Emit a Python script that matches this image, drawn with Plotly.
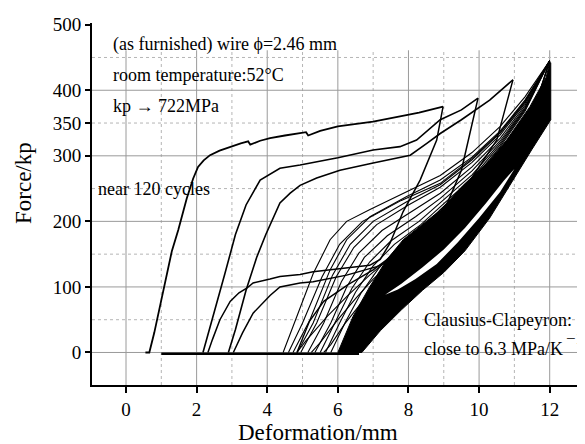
import plotly.graph_objects as go

# ---------------- data ----------------
c1_load_x = [0.55, 0.66, 0.80, 1.07, 1.30, 1.48, 1.72, 1.90, 2.04, 2.20, 2.38, 2.65, 2.95, 3.25, 3.46, 3.52, 3.80, 4.08, 4.50, 4.93, 5.10, 5.16, 5.50, 6.00, 6.60, 7.00, 7.76, 8.30, 8.98]
c1_load_y = [0, 0, 30, 100, 155, 187, 235, 265, 283, 293, 301, 308, 314, 319, 322, 317, 323, 327, 331, 334, 336, 331, 338, 345, 349, 352, 360, 366, 375]
c1_unload_x = [8.98, 8.80, 8.33, 7.85, 7.48, 7.20, 6.90, 6.25, 5.30, 4.93, 4.36, 4.08, 3.60, 3.42, 3.20, 2.95, 2.66, 2.45, 2.32]
c1_unload_y = [375, 324, 263, 215, 167, 142, 133, 129, 123, 119, 116, 112, 106, 98, 91, 78, 50, 20, 0]

c2_load_x = [2.18, 2.50, 2.80, 3.10, 3.40, 3.80, 4.36, 4.93, 5.40, 6.00, 7.00, 7.76, 8.23, 8.90, 9.50, 9.97]
c2_load_y = [0, 60, 120, 180, 225, 263, 281, 286, 291, 297, 309, 314, 324, 355, 370, 388]
c2_unload_x = [9.97, 9.50, 9.10, 8.60, 8.10, 7.60, 7.10, 6.25, 5.30, 4.93, 4.36, 4.08, 3.60, 3.30, 3.04]
c2_unload_y = [388, 278, 228, 188, 160, 142, 131, 118, 108, 106, 100, 87, 60, 30, 0]

c3_load_x = [2.90, 3.10, 3.40, 3.70, 3.96, 4.36, 4.65, 4.93, 5.40, 6.06, 7.00, 8.05, 8.52, 8.90, 9.50, 10.30, 10.96]
c3_load_y = [0, 35, 95, 145, 180, 228, 243, 255, 266, 278, 289, 301, 319, 334, 355, 385, 416]
c3_unload_x = [10.96, 10.50, 9.94, 9.40, 8.80, 8.20, 7.60, 7.00, 6.30, 5.60, 5.20, 4.95, 4.84]
c3_unload_y = [416, 324, 278, 236, 200, 172, 150, 126, 104, 78, 48, 15, 0]

# later loading branches converging on the 12 mm apex
fan_x = [
    [4.45, 4.70, 4.93, 5.30, 5.78, 6.25, 6.91, 7.95, 8.90, 9.80, 10.60, 11.30, 12.00],
    [4.60, 5.00, 5.55, 6.05, 6.70, 7.80, 8.90, 9.80, 10.60, 11.30, 12.00],
    [4.73, 5.21, 5.78, 6.25, 6.91, 7.95, 8.90, 9.80, 10.60, 11.30, 12.00],
    [4.85, 5.30, 5.85, 6.35, 7.00, 7.95, 8.90, 9.80, 10.60, 11.30, 12.00],
    [4.95, 5.40, 5.95, 6.45, 7.10, 8.00, 8.90, 9.80, 10.60, 11.30, 12.00],
    [5.15, 5.60, 6.10, 6.60, 7.25, 8.10, 8.90, 9.80, 10.60, 11.30, 12.00],
    [5.35, 5.80, 6.25, 6.75, 7.40, 8.20, 8.90, 9.80, 10.60, 11.30, 12.00],
    [5.50, 5.95, 6.40, 6.90, 7.50, 8.30, 8.90, 9.80, 10.60, 11.30, 12.00],
    [5.65, 6.05, 6.50, 7.00, 7.60, 8.35, 8.90, 9.80, 10.60, 11.30, 12.00],
    [5.80, 6.20, 6.65, 7.15, 7.70, 8.40, 8.90, 9.80, 10.60, 11.30, 12.00],
]
fan_y = [
    [0, 35, 70, 120, 172, 200, 218, 245, 270, 305, 345, 390, 445],
    [0, 45, 115, 165, 200, 232, 258, 296, 336, 383, 445],
    [0, 50, 126, 172, 207, 238, 263, 298, 338, 385, 445],
    [0, 45, 118, 165, 200, 230, 256, 294, 335, 382, 445],
    [0, 45, 115, 160, 195, 225, 252, 290, 332, 380, 445],
    [0, 45, 108, 152, 186, 215, 243, 283, 327, 377, 445],
    [0, 45, 100, 145, 178, 207, 235, 277, 323, 374, 445],
    [0, 48, 98, 138, 170, 200, 228, 271, 320, 372, 445],
    [0, 45, 92, 132, 165, 195, 222, 266, 317, 370, 445],
    [0, 45, 90, 128, 160, 190, 218, 262, 314, 368, 445],
]

# later unloading branches from the apex
unl_x = [
    [12.00, 11.60, 11.00, 10.30, 9.60, 8.90, 8.20, 7.50, 6.90, 6.30, 5.70, 5.10, 4.84],
    [12.00, 11.60, 11.00, 10.30, 9.60, 8.90, 8.20, 7.60, 7.00, 6.50, 6.00, 5.50, 5.25],
    [12.00, 11.60, 11.00, 10.30, 9.60, 8.90, 8.30, 7.70, 7.20, 6.70, 6.20, 5.80, 5.60],
]
unl_y = [
    [445, 380, 322, 275, 236, 200, 170, 145, 118, 88, 55, 18, 0],
    [445, 378, 318, 270, 230, 195, 165, 140, 112, 82, 50, 15, 0],
    [445, 375, 315, 266, 226, 192, 162, 136, 108, 78, 44, 12, 0],
]

# zero-force slack between cycles
slack_x = [1.00, 6.60]
slack_y = [-2, -2]

# dense band of the stabilised cycles (outline)
band_x = [6.00, 6.20, 6.43, 6.90, 7.38, 7.85, 8.42, 8.90, 9.55, 10.30, 10.78, 11.44, 11.90, 12.00, 12.03, 12.03,
          11.50, 10.96, 10.30, 9.60, 9.00, 8.40, 7.80, 7.20, 6.68, 6.00]
band_y = [0, 25, 55, 100, 141, 172, 197, 217, 255, 293, 324, 375, 420, 442, 442, 355,
          310, 262, 205, 155, 122, 95, 65, 33, 0, 0]
# thin gap between the two branches of the band
gap_x = [7.34, 7.80, 8.40, 9.00, 9.60, 10.20, 10.70, 11.00, 10.60, 10.00, 9.40, 8.80, 8.20, 7.70, 7.34]
gap_y = [88, 105, 130, 157, 190, 228, 262, 280, 245, 205, 168, 135, 112, 96, 88]

x_ticks = [0, 2, 4, 6, 8, 10, 12]
y_ticks = [0, 100, 200, 300, 350, 400, 500]
grid_major_x = [0, 2, 4, 6, 8, 10, 12]
grid_minor_x = [1, 3, 5, 7, 9, 11]
grid_major_y = [0, 100, 200, 300, 400]
grid_minor_y = [50, 150, 250, 350, 450]

# ---------------- layout constants ----------------
OFF = 8                      # page body margin of the browser
PAGE_W, PAGE_H = 585, 444
W, H = PAGE_W - OFF, PAGE_H - OFF
PL, PR, PT, PB = 92, 585, 23, 385   # plot area in page pixels
XR = [-0.963, 13.0]
YR = [-49.6, 502.6]
GRID_TOP = 461
FONT = "Liberation Serif"


def px(xp):
    return (xp - PL) / (PR - PL)


def py(yp):
    return (PB - yp) / (PB - PT)


fig = go.Figure()

fig.add_trace(go.Scatter(x=band_x, y=band_y, fill="toself", fillcolor="black", mode="lines",
                         line=dict(color="black", width=1), hoverinfo="skip", showlegend=False))
fig.add_trace(go.Scatter(x=gap_x, y=gap_y, fill="toself", fillcolor="white", mode="lines",
                         line=dict(color="white", width=0), hoverinfo="skip", showlegend=False))


def add_line(xs, ys, w=1.4):
    fig.add_trace(go.Scatter(x=xs, y=ys, mode="lines", line=dict(color="black", width=w),
                             hoverinfo="skip", showlegend=False))


for xs, ys in zip(fan_x, fan_y):
    add_line(xs, ys, 1.1)
for xs, ys in zip(unl_x, unl_y):
    add_line(xs, ys, 1.1)
add_line(c1_load_x, c1_load_y, 1.8)
add_line(c1_unload_x, c1_unload_y, 1.5)
add_line(c2_load_x, c2_load_y, 1.6)
add_line(c2_unload_x, c2_unload_y, 1.5)
add_line(c3_load_x, c3_load_y, 1.6)
add_line(c3_unload_x, c3_unload_y, 1.4)
add_line(slack_x, slack_y, 2.5)

shapes = []
for g in grid_major_x:
    shapes.append(dict(type="line", xref="x", yref="y", x0=g, x1=g, y0=YR[0], y1=GRID_TOP,
                       line=dict(color="#9a9a9a", width=1), layer="below"))
for g in grid_minor_x:
    shapes.append(dict(type="line", xref="x", yref="y", x0=g, x1=g, y0=YR[0], y1=GRID_TOP,
                       line=dict(color="#b5b5b5", width=1, dash="dot"), layer="below"))
for g in grid_major_y:
    shapes.append(dict(type="line", xref="x", yref="y", x0=XR[0], x1=XR[1], y0=g, y1=g,
                       line=dict(color="#9a9a9a", width=1), layer="below"))
for g in grid_minor_y:
    shapes.append(dict(type="line", xref="x", yref="y", x0=XR[0], x1=XR[1], y0=g, y1=g,
                       line=dict(color="#b5b5b5", width=1, dash="dot"), layer="below"))
# white boxes behind the text blocks
for (a, b, c, d) in [(92, 413, 20, 93), (92, 265, 93, 133), (92, 216, 177, 203), (402, 586, 307, 377)]:
    shapes.append(dict(type="rect", xref="paper", yref="paper", x0=px(a), x1=px(b), y0=py(d), y1=py(c),
                       fillcolor="white", line=dict(width=0), layer="below"))

annos = []


def txt(s, xp, yp, size=18, xanchor="left"):
    annos.append(dict(text=s, xref="paper", yref="paper", x=px(xp), y=py(yp), xanchor=xanchor,
                      yanchor="middle", showarrow=False, borderpad=0,
                      font=dict(family=FONT, size=size, color="black")))


txt("(as furnished) wire \u03d5=2.46 mm", 112, 45)
txt("room temperature:52\u00b0C", 112, 75)
txt("kp \u2192 722MPa", 112, 106)
txt("near 120 cycles", 97, 189)
txt("Clausius-Clapeyron:", 423, 320)
txt("close to 6.3 MPa/K", 423, 349)
txt("\u22121", 585, 338, size=17, xanchor="right")
txt("Deformation/mm", 318, 432, size=23, xanchor="center")
annos.append(dict(text="Force/kp", xref="paper", yref="paper", x=px(23), y=py(183), textangle=-90,
                  xanchor="center", yanchor="middle", showarrow=False,
                  font=dict(family=FONT, size=23, color="black")))

fig.update_layout(
    width=W, height=H, margin=dict(l=PL - OFF, r=PAGE_W - PR, t=PT - OFF, b=PAGE_H - PB),
    paper_bgcolor="white", plot_bgcolor="white",
    shapes=shapes, annotations=annos,
    xaxis=dict(range=XR, tickvals=x_ticks, showgrid=False, zeroline=False, showline=True,
               linecolor="black", linewidth=2, ticks="outside", ticklen=6, tickwidth=2, tickcolor="black",
               tickfont=dict(family=FONT, size=19, color="black")),
    yaxis=dict(range=YR, tickvals=y_ticks, showgrid=False, zeroline=False, showline=True,
               linecolor="black", linewidth=2, ticks="outside", ticklen=5, tickwidth=2, tickcolor="black",
               tickfont=dict(family=FONT, size=19, color="black")),
)

fig.write_html("out.html")
